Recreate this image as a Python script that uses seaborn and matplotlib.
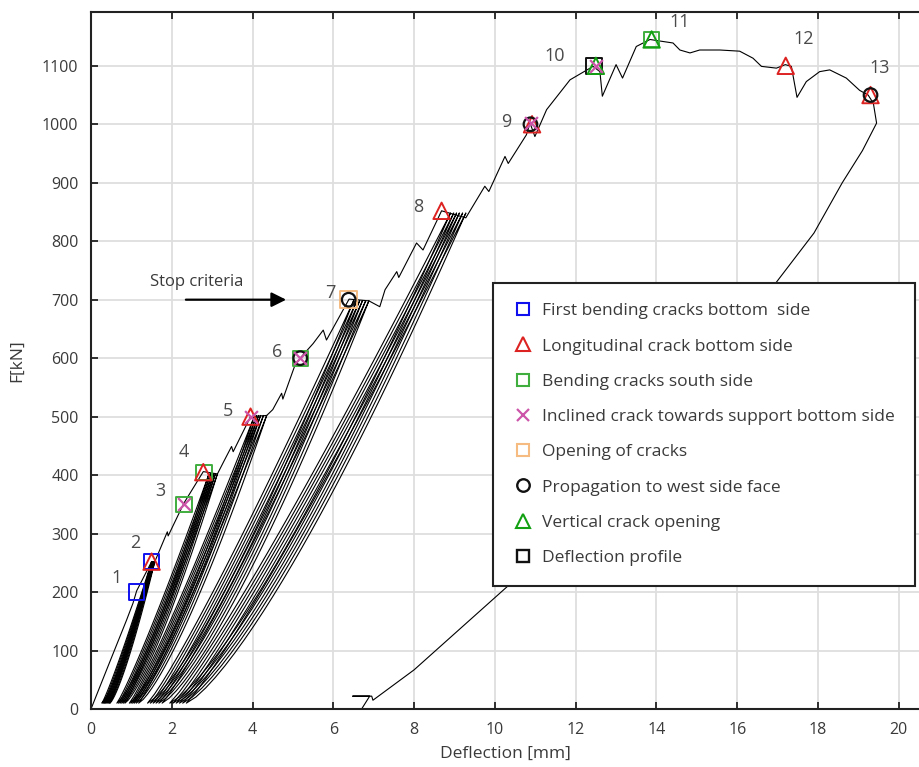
import numpy as np
import pandas as pd
import matplotlib
matplotlib.use("Agg")
import matplotlib.pyplot as plt
from matplotlib.lines import Line2D
import seaborn as sns

# ---------------- data ----------------
# envelope (virgin) load path, deflection [mm] / force [kN]
env_x = [0.0, 0.45, 0.88, 1.04, 1.13, 1.50, 1.58, 1.89, 1.91, 2.30, 2.78, 3.13, 3.30, 3.48, 3.52,
         3.95, 4.35, 4.50, 4.72, 4.75, 5.05, 5.19, 5.50, 5.75, 5.83, 6.39, 6.88, 7.15, 7.28, 7.57,
         7.62, 8.06, 8.22, 8.68, 9.28, 9.75, 9.85, 10.25, 10.33, 10.78, 10.87, 10.99, 11.28, 11.86,
         12.43, 12.60, 12.66, 13.00, 13.16, 13.50, 13.84, 14.12, 14.41, 14.58, 14.83, 15.07, 15.57,
         16.06, 16.39, 16.60, 16.97, 17.19, 17.34, 17.48, 17.71, 18.04, 18.29, 18.70, 19.03, 19.24,
         19.37, 19.45, 19.10, 18.60, 17.90, 16.97, 13.50, 10.30, 8.00, 6.98, 6.95, 6.48, 6.90, 6.70]
env_f = [0, 78, 152, 181, 202, 252, 252, 303, 296, 352, 406, 402, 425, 449, 440,
         500, 502, 512, 540, 530, 588, 601, 625, 648, 631, 701, 698, 688, 717, 748,
         738, 797, 785, 852, 840, 894, 885, 945, 933, 982, 1002, 979, 1025, 1076,
         1099, 1090, 1048, 1102, 1079, 1133, 1145, 1142, 1139, 1127, 1122, 1127, 1127,
         1125, 1113, 1099, 1096, 1102, 1099, 1046, 1073, 1090, 1093, 1079, 1058, 1050,
         1036, 1002, 955, 900, 814, 730, 455, 209, 67, 15, 22, 22, 22, 0]

# unloading / reloading cycles: residual deflection, peak deflection, peak force
g1_res = [0.27, 0.30, 0.33, 0.36, 0.39, 0.42, 0.45, 0.47]
g1_peak = [1.50, 1.51, 1.52, 1.53, 1.54, 1.55, 1.56, 1.58]
g1_force = 252
g2_res = [0.64, 0.68, 0.72, 0.76, 0.80, 0.84]
g2_peak = [2.92, 2.96, 3.00, 3.04, 3.08, 3.13]
g2_force = 402
g3_res = [0.95, 0.99, 1.03, 1.07, 1.12, 1.18]
g3_peak = [4.05, 4.10, 4.15, 4.20, 4.27, 4.35]
g3_force = 502
g4_res = [1.40, 1.47, 1.54, 1.61, 1.68, 1.76]
g4_peak = [6.50, 6.58, 6.65, 6.72, 6.80, 6.88]
g4_force = 698
g5_res = [1.95, 2.03, 2.11, 2.19, 2.27, 2.36]
g5_peak = [8.90, 8.98, 9.05, 9.12, 9.20, 9.28]
g5_force = 848
loop_floor = 10   # loops turn round at about 10 kN

# event markers
blue_sq_x, blue_sq_f = [1.13, 1.50], [200, 252]
red_tri_x, red_tri_f = [1.50, 2.78, 3.95, 8.68, 10.92, 17.20, 19.30], [252, 405, 500, 852, 1000, 1100, 1050]
green_sq_x, green_sq_f = [2.30, 2.80, 5.18, 13.88], [350, 405, 600, 1145]
mag_x_x, mag_x_f = [2.30, 3.95, 5.18, 10.90, 12.50], [350, 500, 600, 1003, 1100]
orange_sq_x, orange_sq_f = [6.38], [700]
black_o_x, black_o_f = [5.18, 6.38, 10.88, 19.30], [600, 700, 1000, 1050]
green_tri_x, green_tri_f = [12.50, 13.88], [1100, 1145]
black_sq_x, black_sq_f = [12.45], [1100]

# numbered labels
num_labels = ["1", "2", "3", "4", "5", "6", "7", "8", "9", "10", "11", "12", "13"]
num_x = [0.62, 1.09, 1.71, 2.30, 3.39, 4.60, 5.92, 8.09, 10.27, 11.49, 14.58, 17.65, 19.53]
num_f = [224, 284, 373, 440, 510, 611, 712, 859, 1004, 1117, 1175, 1145, 1097]

legend_labels = ["First bending cracks bottom  side", "Longitudinal crack bottom side",
                 "Bending cracks south side", "Inclined crack towards support bottom side",
                 "Opening of cracks", "Propagation to west side face",
                 "Vertical crack opening", "Deflection profile"]

x_ticks = [0, 2, 4, 6, 8, 10, 12, 14, 16, 18, 20]
y_ticks = [0, 100, 200, 300, 400, 500, 600, 700, 800, 900, 1000, 1100]

# ---------------- build line table ----------------
rows = []
seg = 0
for x, f in zip(env_x, env_f):
    rows.append((seg, x, f))
seg += 1
groups = [(g1_res, g1_peak, g1_force), (g2_res, g2_peak, g2_force), (g3_res, g3_peak, g3_force),
          (g4_res, g4_peak, g4_force), (g5_res, g5_peak, g5_force)]
t_down = np.linspace(1, 0, 30)
t_up = np.linspace(0, 1, 30)
for res, pk, fpk in groups:
    for r, p in zip(res, pk):
        # loop drawn between the read peak and residual points
        xs = np.concatenate([r + t_down * (p - r), r + t_up * (p - r)])
        fs = np.concatenate([loop_floor + (fpk - loop_floor) * t_down ** 1.3,
                             loop_floor + (fpk - loop_floor) * t_up ** 1.12])
        for x, f in zip(xs, fs):
            rows.append((seg, x, f))
        seg += 1
df = pd.DataFrame(rows, columns=["seg", "defl", "force"])

# ---------------- style ----------------
sns.set_style("whitegrid")
plt.rcParams["font.family"] = ["Open Sans", "DejaVu Sans"]
txt_col = "#3a3a3a"

fig = plt.figure(figsize=(9.19, 7.67), dpi=100)
ax = fig.add_axes([91 / 919, 1 - 709 / 767, 828 / 919, 697 / 767])

sns.lineplot(data=df, x="defl", y="force", units="seg", estimator=None, sort=False,
             color="black", lw=0.8, ax=ax, legend=False)

def mk(xv, fv, marker, col, s, hollow=True, lw=1.4):
    d = pd.DataFrame({"x": xv, "y": fv})
    if hollow:
        sns.scatterplot(data=d, x="x", y="y", marker=marker, s=s, facecolor="none",
                        edgecolor=col, linewidth=lw, ax=ax, zorder=5, legend=False)
    else:
        sns.scatterplot(data=d, x="x", y="y", marker=marker, s=s, color=col,
                        linewidth=lw, ax=ax, zorder=6, legend=False)

c_blue, c_red, c_green, c_mag, c_orange, c_black, c_green2 = (
    "#1010ee", "#dd2222", "#3fae3f", "#cc55aa", "#f5bb80", "#111111", "#12a012")
mk(blue_sq_x, blue_sq_f, "s", c_blue, 120)
mk(green_sq_x, green_sq_f, "s", c_green, 120)
mk(orange_sq_x, orange_sq_f, "s", c_orange, 140)
mk(black_sq_x, black_sq_f, "s", c_black, 130)
mk(red_tri_x, red_tri_f, "^", c_red, 140)
mk(green_tri_x, green_tri_f, "^", c_green2, 140)
mk(black_o_x, black_o_f, "o", c_black, 95, lw=1.6)
mk(mag_x_x, mag_x_f, "x", c_mag, 85, hollow=False, lw=1.6)

for lab, x, f in zip(num_labels, num_x, num_f):
    ax.text(x, f, lab, fontsize=13, color="#4a4a4a", ha="center", va="center")

ax.text(1.46, 730, "Stop criteria", fontsize=12, color=txt_col, ha="left", va="center")
ax.annotate("", xy=(4.9, 700), xytext=(2.28, 700),
            arrowprops=dict(arrowstyle="-|>", color="black", lw=1.6, mutation_scale=22))

ax.set_xlim(0, 20.5)
ax.set_ylim(0, 1192)
ax.set_xticks(x_ticks)
ax.set_yticks(y_ticks)
ax.grid(True, color="#dedede", lw=1.3)
ax.set_axisbelow(True)
for side in ["left", "bottom", "top"]:
    ax.spines[side].set_color("#222222")
    ax.spines[side].set_linewidth(1.5)
ax.spines["right"].set_visible(False)
ax.tick_params(axis="both", direction="in", length=5, width=1.3, color="#222222",
               labelsize=11.5, labelcolor=txt_col, top=True, bottom=True, left=True, right=False)
ax.tick_params(axis="x", pad=9)
ax.tick_params(axis="y", pad=9)
ax.set_xlabel("Deflection [mm]", fontsize=12.5, color=txt_col, labelpad=6)
ax.set_ylabel("F[kN]", fontsize=12.5, color=txt_col, labelpad=12)

handles = [
    Line2D([], [], ls="", marker="s", ms=9, mfc="none", mec=c_blue, mew=1.5),
    Line2D([], [], ls="", marker="^", ms=10, mfc="none", mec=c_red, mew=1.5),
    Line2D([], [], ls="", marker="s", ms=9, mfc="none", mec=c_green, mew=1.5),
    Line2D([], [], ls="", marker="x", ms=9, color=c_mag, mew=1.6),
    Line2D([], [], ls="", marker="s", ms=9, mfc="none", mec=c_orange, mew=1.5),
    Line2D([], [], ls="", marker="o", ms=9, mfc="none", mec=c_black, mew=1.7),
    Line2D([], [], ls="", marker="^", ms=10, mfc="none", mec=c_green2, mew=1.5),
    Line2D([], [], ls="", marker="s", ms=9, mfc="none", mec=c_black, mew=1.7),
]
leg = ax.legend(handles, legend_labels, loc="upper left", bbox_to_anchor=(0.4855, 0.611),
                frameon=True, fancybox=False, framealpha=1, edgecolor="#222222",
                fontsize=12.5, labelspacing=1.1, handletextpad=0.5, borderpad=1.15,
                handlelength=1.2, borderaxespad=0)
leg.get_frame().set_linewidth(1.5)
for t in leg.get_texts():
    t.set_color(txt_col)

fig.savefig("out.png", dpi=100)
